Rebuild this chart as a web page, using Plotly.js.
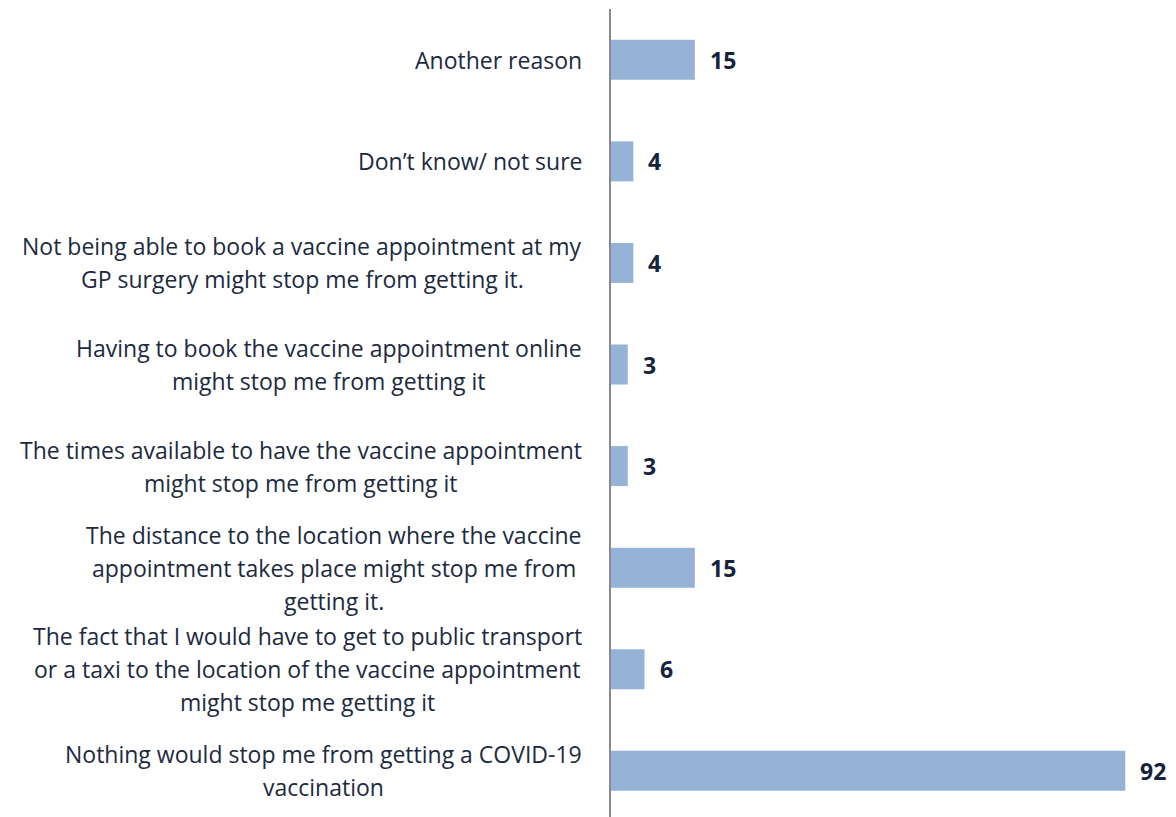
<!DOCTYPE html>
<html>
<head>
<meta charset="utf-8">
<script src="https://cdn.plot.ly/plotly-3.0.1.min.js"></script>
<style>html,body{margin:0;padding:0;background:#fff;} #chart{width:1176px;height:817px;}</style>
</head>
<body>
<div id="chart"></div>
<script>
const categories = [
  "Another reason",
  "Don’t know/ not sure",
  "Not being able to book a vaccine appointment at my<br>GP surgery might stop me from getting it.",
  "Having to book the vaccine appointment online<br>might stop me from getting it",
  "The times available to have the vaccine appointment<br>might stop me from getting it",
  "The distance to the location where the vaccine<br>appointment takes place might stop me from<br>getting it.",
  "The fact that I would have to get to public transport<br>or a taxi to the location of the vaccine appointment<br>might stop me getting it",
  "Nothing would stop me from getting a COVID-19<br>vaccination"
];
const values = [15, 4, 4, 3, 3, 15, 6, 92];

const W = 1176, H = 817;
const ML = 611, MR = 6, MT = 9, MB = 0;
const plotW = W - ML - MR;
const labelFamily = 'Open Sans';
const labelFont = '"Open Sans", sans-serif';
const labelSize = 23;
const labelColor = '#1C2A40';
const lineGap = 33;
const rightEdge = 582;

const canvas = document.createElement('canvas');
const ctx = canvas.getContext('2d');
ctx.font = labelSize + 'px "' + labelFamily + '"';

const annotations = [];
categories.forEach((cat, i) => {
  const lines = cat.split('<br>');
  const widths = lines.map(l => ctx.measureText(l).width);
  const maxW = Math.max(...widths);
  const centerPx = rightEdge - maxW / 2;
  const n = lines.length;
  lines.forEach((line, j) => {
    annotations.push({
      xref: 'paper', yref: 'y',
      x: (centerPx - ML) / plotW, y: cat,
      xanchor: 'center', yanchor: 'middle',
      yshift: ((n - 1) / 2 - j) * lineGap,
      text: line, showarrow: false,
      font: {family: labelFont, size: labelSize, color: labelColor}
    });
  });
  annotations.push({
    xref: 'x', yref: 'y',
    x: values[i], y: cat,
    xanchor: 'left', yanchor: 'middle',
    xshift: 13,
    text: '<b>' + values[i] + '</b>', showarrow: false,
    font: {family: labelFont, size: 23, color: '#15233B'}
  });
});

const trace = {
  type: 'bar', orientation: 'h',
  x: values, y: categories,
  marker: {color: '#95B3D7', line: {width: 0}},
  width: 0.394,
  hoverinfo: 'none'
};

const layout = {
  width: W, height: H,
  margin: {l: ML, r: MR, t: MT, b: MB, pad: 0},
  paper_bgcolor: '#ffffff', plot_bgcolor: '#ffffff',
  showlegend: false,
  xaxis: {range: [0, 100], showgrid: false, zeroline: false, showticklabels: false, ticks: '', showline: false, fixedrange: true},
  yaxis: {type: 'category', categoryorder: 'array', categoryarray: categories,
          range: [7.455, -0.5], showgrid: false, zeroline: false, showticklabels: false, ticks: '',
          showline: true, linecolor: '#8A8A8A', linewidth: 2, fixedrange: true},
  annotations: annotations
};

Plotly.newPlot('chart', [trace], layout, {displayModeBar: false, staticPlot: true});
</script>
</body>
</html>
